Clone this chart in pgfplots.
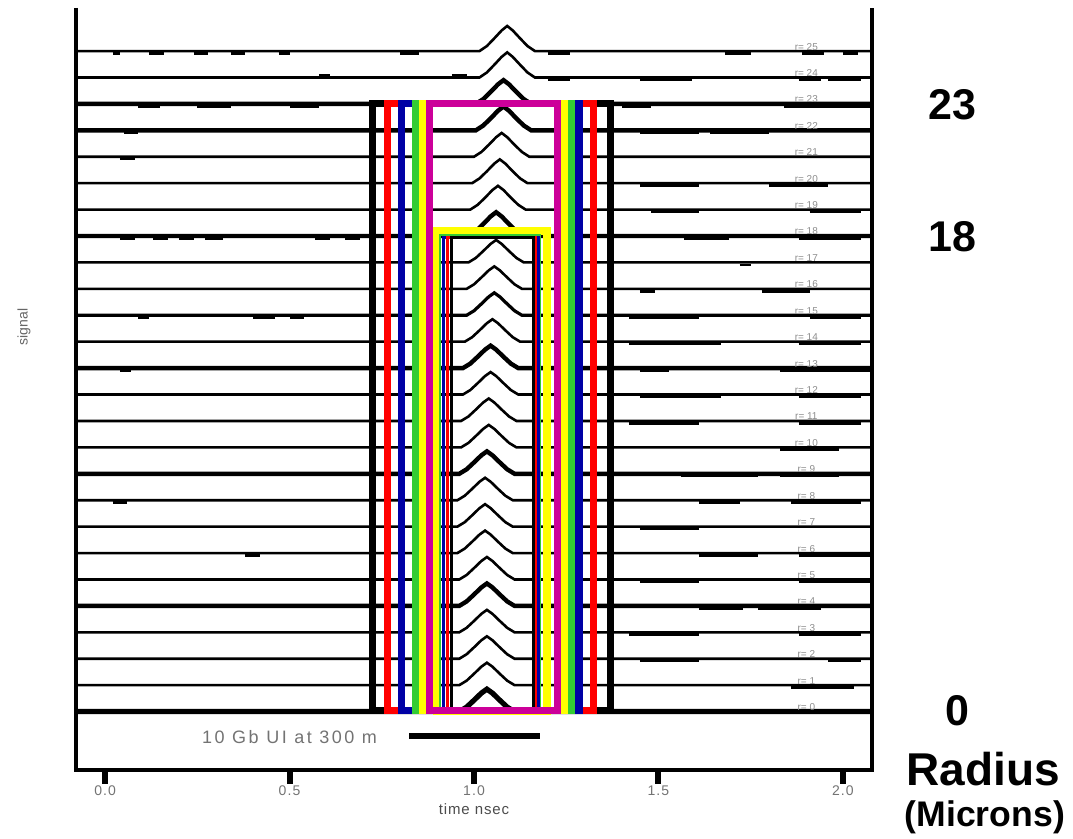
\documentclass[border=0pt]{standalone}
\usepackage{pgfplots}
\pgfplotsset{compat=1.18}
\usepackage{fontspec}
\setmainfont{Liberation Sans}
\definecolor{cred}{RGB}{255,0,0}
\definecolor{cblue}{RGB}{0,0,165}
\definecolor{cgreen}{RGB}{51,204,51}
\definecolor{cyellow}{RGB}{255,255,0}
\definecolor{cmag}{RGB}{204,0,153}
\begin{document}
\begin{tikzpicture}
\useasboundingbox (-38pt,-34.5pt) rectangle (498.5pt,385pt);
\begin{axis}[at={(0pt,0pt)}, anchor=south west, scale only axis,
  width=398pt, height=381pt,
  xmin=-0.079, xmax=2.079, ymin=-2.21, ymax=26.63, clip=false,
  axis line style={draw=none},
  xtick={0,0.5,1,1.5,2}, xticklabels={0.0,0.5,1.0,1.5,2.0}, ytick=\empty,
  tick align=outside, xtick pos=left, major tick length=7pt,
  every tick/.style={black, line width=3pt},
  xticklabel style={font=\fontsize{7}{8}\selectfont\addfontfeature{LetterSpace=8}, text=black!55, yshift=2.5pt},
  /pgf/number format/assume math mode=true,
  line join=miter]

% ---- traces
\addplot[black, line width=1.3pt] coordinates {(-0.08,25) (1.015,25) (1.035,25.19) (1.055,25.48) (1.075,25.78) (1.09,25.95) (1.105,25.78) (1.125,25.48) (1.145,25.19) (1.165,25) (2.08,25)};
\addplot[black, line width=1.3pt] coordinates {(-0.08,24) (1.015,24) (1.035,24.19) (1.055,24.48) (1.075,24.78) (1.09,24.95) (1.105,24.78) (1.125,24.48) (1.145,24.19) (1.165,24) (2.08,24)};
\addplot[black, line width=2.2pt] coordinates {(-0.08,23) (1.005,23) (1.025,23.18) (1.045,23.45) (1.065,23.74) (1.08,23.9) (1.095,23.74) (1.115,23.45) (1.135,23.18) (1.155,23) (2.08,23)};
\addplot[black, line width=2.2pt] coordinates {(-0.08,22) (1.005,22) (1.025,22.18) (1.045,22.45) (1.065,22.74) (1.08,22.9) (1.095,22.74) (1.115,22.45) (1.135,22.18) (1.155,22) (2.08,22)};
\addplot[black, line width=1.3pt] coordinates {(-0.08,21) (1.0,21) (1.02,21.18) (1.04,21.45) (1.06,21.74) (1.075,21.9) (1.09,21.74) (1.11,21.45) (1.13,21.18) (1.15,21) (2.08,21)};
\addplot[black, line width=1.3pt] coordinates {(-0.08,20) (0.995,20) (1.015,20.18) (1.035,20.45) (1.055,20.74) (1.07,20.9) (1.085,20.74) (1.105,20.45) (1.125,20.18) (1.145,20) (2.08,20)};
\addplot[black, line width=1.3pt] coordinates {(-0.08,19) (0.99,19) (1.01,19.18) (1.03,19.45) (1.05,19.74) (1.065,19.9) (1.08,19.74) (1.1,19.45) (1.12,19.18) (1.14,19) (2.08,19)};
\addplot[black, line width=2.2pt] coordinates {(-0.08,18) (0.985,18) (1.005,18.18) (1.025,18.45) (1.045,18.74) (1.06,18.9) (1.075,18.74) (1.095,18.45) (1.115,18.18) (1.135,18) (2.08,18)};
\addplot[black, line width=1.3pt] coordinates {(-0.08,17) (0.985,17) (1.005,17.17) (1.025,17.43) (1.045,17.7) (1.06,17.85) (1.075,17.7) (1.095,17.43) (1.115,17.17) (1.135,17) (2.08,17)};
\addplot[black, line width=1.3pt] coordinates {(-0.08,16) (0.98,16) (1.0,16.17) (1.02,16.43) (1.04,16.7) (1.055,16.85) (1.07,16.7) (1.09,16.43) (1.11,16.17) (1.13,16) (2.08,16)};
\addplot[black, line width=1.6pt] coordinates {(-0.08,15) (0.98,15) (1.0,15.17) (1.02,15.43) (1.04,15.7) (1.055,15.85) (1.07,15.7) (1.09,15.43) (1.11,15.17) (1.13,15) (2.08,15)};
\addplot[black, line width=1.3pt] coordinates {(-0.08,14) (0.975,14) (0.995,14.17) (1.015,14.43) (1.035,14.7) (1.05,14.85) (1.065,14.7) (1.085,14.43) (1.105,14.17) (1.125,14) (2.08,14)};
\addplot[black, line width=2.2pt] coordinates {(-0.08,13) (0.97,13) (0.99,13.17) (1.01,13.43) (1.03,13.7) (1.045,13.85) (1.06,13.7) (1.08,13.43) (1.1,13.17) (1.12,13) (2.08,13)};
\addplot[black, line width=1.3pt] coordinates {(-0.08,12) (0.97,12) (0.99,12.17) (1.01,12.43) (1.03,12.7) (1.045,12.85) (1.06,12.7) (1.08,12.43) (1.1,12.17) (1.12,12) (2.08,12)};
\addplot[black, line width=1.3pt] coordinates {(-0.08,11) (0.965,11) (0.985,11.17) (1.005,11.43) (1.025,11.7) (1.04,11.85) (1.055,11.7) (1.075,11.43) (1.095,11.17) (1.115,11) (2.08,11)};
\addplot[black, line width=1.3pt] coordinates {(-0.08,10) (0.965,10) (0.985,10.17) (1.005,10.43) (1.025,10.7) (1.04,10.85) (1.055,10.7) (1.075,10.43) (1.095,10.17) (1.115,10) (2.08,10)};
\addplot[black, line width=2.2pt] coordinates {(-0.08,9) (0.96,9) (0.98,9.17) (1.0,9.43) (1.02,9.7) (1.035,9.85) (1.05,9.7) (1.07,9.43) (1.09,9.17) (1.11,9) (2.08,9)};
\addplot[black, line width=1.3pt] coordinates {(-0.08,8) (0.955,8) (0.975,8.17) (0.995,8.43) (1.015,8.7) (1.03,8.85) (1.045,8.7) (1.065,8.43) (1.085,8.17) (1.105,8) (2.08,8)};
\addplot[black, line width=1.3pt] coordinates {(-0.08,7) (0.955,7) (0.975,7.17) (0.995,7.43) (1.015,7.7) (1.03,7.85) (1.045,7.7) (1.065,7.43) (1.085,7.17) (1.105,7) (2.08,7)};
\addplot[black, line width=1.3pt] coordinates {(-0.08,6) (0.955,6) (0.975,6.17) (0.995,6.43) (1.015,6.7) (1.03,6.85) (1.045,6.7) (1.065,6.43) (1.085,6.17) (1.105,6) (2.08,6)};
\addplot[black, line width=1.3pt] coordinates {(-0.08,5) (0.96,5) (0.98,5.17) (1.0,5.43) (1.02,5.7) (1.035,5.85) (1.05,5.7) (1.07,5.43) (1.09,5.17) (1.11,5) (2.08,5)};
\addplot[black, line width=2.2pt] coordinates {(-0.08,4) (0.96,4) (0.98,4.17) (1.0,4.43) (1.02,4.7) (1.035,4.85) (1.05,4.7) (1.07,4.43) (1.09,4.17) (1.11,4) (2.08,4)};
\addplot[black, line width=1.3pt] coordinates {(-0.08,3) (0.96,3) (0.98,3.17) (1.0,3.43) (1.02,3.7) (1.035,3.85) (1.05,3.7) (1.07,3.43) (1.09,3.17) (1.11,3) (2.08,3)};
\addplot[black, line width=1.3pt] coordinates {(-0.08,2) (0.96,2) (0.98,2.17) (1.0,2.43) (1.02,2.7) (1.035,2.85) (1.05,2.7) (1.07,2.43) (1.09,2.17) (1.11,2) (2.08,2)};
\addplot[black, line width=1.3pt] coordinates {(-0.08,1) (0.96,1) (0.98,1.17) (1.0,1.43) (1.02,1.7) (1.035,1.85) (1.05,1.7) (1.07,1.43) (1.09,1.17) (1.11,1) (2.08,1)};
\addplot[black, line width=2.6pt] coordinates {(-0.08,0) (0.96,0) (0.98,0.17) (1.0,0.43) (1.02,0.7) (1.035,0.85) (1.05,0.7) (1.07,0.43) (1.09,0.17) (1.11,0) (2.08,0)};

% ---- noise dashes on the traces
\addplot[black, line width=1.3pt, unbounded coords=jump] coordinates {
(0.02,24.91) (0.04,24.91) (0.04,nan) (0.12,24.91) (0.16,24.91) (0.16,nan) (0.24,24.91) (0.28,24.91) (0.28,nan) (0.34,24.91) (0.38,24.91) (0.38,nan) (0.47,24.91) (0.50,24.91) (0.50,nan) (0.80,24.91) (0.85,24.91) (0.85,nan) (1.20,24.91) (1.26,24.91) (1.26,nan) (1.68,24.91) (1.75,24.91) (1.75,nan) (1.89,24.91) (1.95,24.91) (1.95,nan) (2.00,24.91) (2.04,24.91) (2.04,nan)
(0.58,24.09) (0.61,24.09) (0.61,nan) (0.94,24.09) (0.98,24.09) (0.98,nan) (1.20,23.91) (1.26,23.91) (1.26,nan) (1.45,23.91) (1.59,23.91) (1.59,nan) (1.88,23.91) (1.94,23.91) (1.94,nan) (1.96,23.91) (2.05,23.91) (2.05,nan)
(0.09,22.91) (0.15,22.91) (0.15,nan) (0.25,22.91) (0.34,22.91) (0.34,nan) (0.50,22.91) (0.58,22.91) (0.58,nan) (1.40,22.91) (1.48,22.91) (1.48,nan) (1.84,22.91) (2.08,22.91) (2.08,nan)
(0.05,21.91) (0.09,21.91) (0.09,nan) (1.45,21.91) (1.61,21.91) (1.61,nan) (1.64,21.91) (1.80,21.91) (1.80,nan)
(0.04,20.91) (0.08,20.91) (0.08,nan)
(1.45,19.91) (1.61,19.91) (1.61,nan) (1.80,19.91) (1.96,19.91) (1.96,nan)
(1.48,18.91) (1.61,18.91) (1.61,nan) (1.91,18.91) (2.05,18.91) (2.05,nan)
(0.04,17.91) (0.08,17.91) (0.08,nan) (0.13,17.91) (0.17,17.91) (0.17,nan) (0.20,17.91) (0.24,17.91) (0.24,nan) (0.27,17.91) (0.32,17.91) (0.32,nan) (0.57,17.91) (0.61,17.91) (0.61,nan) (0.65,17.91) (0.69,17.91) (0.69,nan) (1.57,17.91) (1.69,17.91) (1.69,nan) (1.88,17.91) (2.05,17.91) (2.05,nan)
(1.72,16.91) (1.75,16.91) (1.75,nan)
(1.45,15.91) (1.49,15.91) (1.49,nan) (1.78,15.91) (1.91,15.91) (1.91,nan)
(0.09,14.91) (0.12,14.91) (0.12,nan) (0.40,14.91) (0.46,14.91) (0.46,nan) (0.50,14.91) (0.54,14.91) (0.54,nan) (1.42,14.91) (1.61,14.91) (1.61,nan) (1.91,14.91) (2.05,14.91) (2.05,nan)
(1.42,13.91) (1.67,13.91) (1.67,nan) (1.88,13.91) (2.05,13.91) (2.05,nan)
(0.04,12.91) (0.07,12.91) (0.07,nan) (1.45,12.91) (1.53,12.91) (1.53,nan) (1.83,12.91) (2.08,12.91) (2.08,nan)
(1.45,11.91) (1.67,11.91) (1.67,nan) (1.88,11.91) (2.05,11.91) (2.05,nan)
(1.42,10.91) (1.61,10.91) (1.61,nan) (1.88,10.91) (2.05,10.91) (2.05,nan)
(1.83,9.91) (1.99,9.91) (1.99,nan)
(1.56,8.91) (1.77,8.91) (1.77,nan) (1.83,8.91) (1.99,8.91) (1.99,nan)
(0.02,7.91) (0.06,7.91) (0.06,nan) (1.61,7.91) (1.72,7.91) (1.72,nan) (1.86,7.91) (2.05,7.91) (2.05,nan)
(1.45,6.91) (1.61,6.91) (1.61,nan)
(0.38,5.91) (0.42,5.91) (0.42,nan) (1.61,5.91) (1.77,5.91) (1.77,nan) (1.88,5.91) (2.08,5.91) (2.08,nan)
(1.45,4.91) (1.61,4.91) (1.61,nan) (1.88,4.91) (2.08,4.91) (2.08,nan)
(1.61,3.91) (1.73,3.91) (1.73,nan) (1.77,3.91) (1.94,3.91) (1.94,nan)
(1.42,2.91) (1.61,2.91) (1.61,nan) (1.88,2.91) (2.05,2.91) (2.05,nan)
(1.45,1.91) (1.61,1.91) (1.61,nan) (1.96,1.91) (2.05,1.91) (2.05,nan)
(1.86,0.91) (2.03,0.91)
};

% ---- outer boxes (r = 0 .. 23)
\addplot[black, line width=3.6pt] coordinates {(1.0,0.04) (0.7246,0.04) (0.7246,23.03) (1.3704,23.03) (1.3704,0.04) (1.0,0.04)};
\addplot[cred, line width=3.6pt] coordinates {(1.0,0.04) (0.7653,0.04) (0.7653,23.03) (1.3235,23.03) (1.3235,0.04) (1.0,0.04)};
\addplot[cblue, line width=3.6pt] coordinates {(1.0,0.04) (0.8033,0.04) (0.8033,23.03) (1.2844,23.03) (1.2844,0.04) (1.0,0.04)};
\addplot[cgreen, line width=3.6pt] coordinates {(1.0,0.04) (0.8412,0.04) (0.8412,23.03) (1.2637,23.03) (1.2637,0.04) (1.0,0.04)};
\addplot[cyellow, line width=3.6pt] coordinates {(1.0,0.04) (0.8602,0.04) (0.8602,23.03) (1.2456,23.03) (1.2456,0.04) (1.0,0.04)};
% ---- inner boxes (r = 0 .. 18)
\addplot[cyellow, line width=4pt] coordinates {(1.0,0.04) (0.8996,0.04) (0.8996,18.18) (1.198,18.18) (1.198,0.04) (1.0,0.04)};
\addplot[cgreen, line width=1pt] coordinates {(1.0,0.04) (0.909,0.04) (0.909,18.02) (1.180,18.02) (1.180,0.04) (1.0,0.04)};
\addplot[cblue, line width=1.5pt] coordinates {(1.0,0.04) (0.917,0.04) (0.917,17.95) (1.174,17.95) (1.174,0.04) (1.0,0.04)};
\addplot[cred, line width=1.5pt] coordinates {(1.0,0.04) (0.928,0.04) (0.928,17.95) (1.167,17.95) (1.167,0.04) (1.0,0.04)};
\addplot[black, line width=1.5pt] coordinates {(1.0,0.04) (0.939,0.04) (0.939,17.95) (1.160,17.95) (1.160,0.04) (1.0,0.04)};
% ---- magenta box
\addplot[cmag, line width=3.6pt] coordinates {(1.0,0.04) (0.8800,0.04) (0.8800,23.03) (1.2266,23.03) (1.2266,0.04) (1.0,0.04)};

% ---- UI bar
\addplot[black, line width=3pt] coordinates {(0.825,-0.91) (1.178,-0.91)};
\node[font=\fontsize{9}{10}\selectfont\addfontfeature{LetterSpace=14}, text=black!55] at (axis cs:0.500,-0.98) {10 Gb UI at 300 m};

% ---- r labels
\foreach \r in {0,...,25}{
  \edef\temp{\noexpand\node[font=\noexpand\fontsize{5}{6}\noexpand\selectfont, text=black!45, inner sep=0pt] at (axis cs:1.901,\r+0.17) {r= \r};}
  \temp
}

% ---- frame
\draw[line width=2.3pt, line join=miter] (rel axis cs:0,1) -- (rel axis cs:0,0) -- (rel axis cs:1,0) -- (rel axis cs:1,1);

% ---- labels
\node[rotate=90, font=\fontsize{7}{8}\selectfont, text=black!60] at (axis cs:-0.22,14.56) {signal};
\node[font=\fontsize{7.5}{9}\selectfont\addfontfeature{LetterSpace=6}, text=black!70] at (axis cs:1.0,-3.7) {time nsec};

\node[font=\bfseries\fontsize{21.5}{24}\selectfont] at (axis cs:2.298,22.96) {23};
\node[font=\bfseries\fontsize{21.5}{24}\selectfont] at (axis cs:2.298,17.97) {18};
\node[font=\bfseries\fontsize{21.5}{24}\selectfont] at (axis cs:2.312,0.04) {0};
\node[font=\bfseries\fontsize{23}{26}\selectfont] at (axis cs:2.38,-2.19) {Radius};
\node[font=\bfseries\fontsize{17.8}{20}\selectfont] at (axis cs:2.385,-4.0) {(Microns)};
\end{axis}
\end{tikzpicture}
\end{document}
